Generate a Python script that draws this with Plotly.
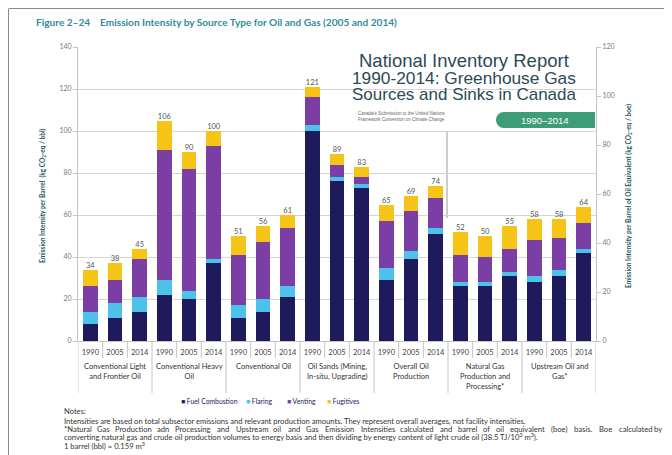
import plotly.graph_objects as go

# ---------------- data ----------------
groups = ["Conventional Light<br>and Frontier Oil", "Conventional Heavy<br>Oil", "Conventional Oil",
          "Oil Sands (Mining,<br>In-situ, Upgrading)", "Overall Oil<br>Production",
          "Natural Gas<br>Production and<br>Processing*", "Upstream Oil and<br>Gas*"]
years = ["1990", "2005", "2014"]
fuel_combustion = [8, 11, 14, 22, 20, 37, 11, 14, 21, 100, 76, 73, 29, 39, 51, 26, 26, 31, 28, 31, 42]
flaring         = [6, 7, 7, 7, 4, 2, 6, 6, 5, 3, 2, 2, 6, 4, 3, 2, 2, 2, 3, 3, 2]
venting         = [12, 11, 18, 62, 58, 54, 24, 27, 28, 13, 6, 3, 22, 19, 14, 13, 12, 11, 17, 15, 12]
fugitives       = [8, 8, 5, 14, 8, 7, 9, 8, 6, 5, 5, 5, 8, 7, 6, 11, 10, 11, 10, 9, 8]
totals          = [34, 38, 45, 106, 90, 100, 51, 56, 61, 121, 89, 83, 65, 69, 74, 52, 50, 55, 58, 58, 64]
left_ticks = [0, 20, 40, 60, 80, 100, 120, 140]
right_ticks = [0, 20, 40, 60, 80, 100, 120]

series = [("Fuel Combustion", fuel_combustion, "#1e1a5c"),
          ("Flaring", flaring, "#4cc2ea"),
          ("Venting", venting, "#7a3ea5"),
          ("Fugitives", fugitives, "#f6c417")]

note_1 = ("Intensities are based on total subsector emissions and relevant production amounts. "
          "They represent overall averages, not facility intensities.")
note_2 = ("*Natural Gas Production adn Processing and Upstream oil and Gas Emission Intensities calculated "
          "and barrel of oil equivalent (boe) basis. Boe calculated by")
note_3 = ("converting natural gas and crude oil production volumes to energy basis and then dividing by "
          "energy content of light crude oil (38.5 TJ/10<sup>3</sup> m<sup>3</sup>).")
note_4 = "1 barrel (bbl) = 0.159 m<sup>3</sup>"

n = len(groups) * len(years)
xpos = list(range(n))
xlabels = [y for g in groups for y in years]

# The page body has an 8px margin, so the figure is 664x447 and sits at (8,8) in the window.
# Helpers below take window (reference) pixel coordinates.
OFF = 8
W, H = 672 - OFF, 455 - OFF
L, R, T, B = 78, 596, 47, 341          # plot area in window pixels
def px(xp):
    return (xp - L) / (R - L)
def py(yp):
    return (B - yp) / (B - T)

FONT = "Lato"
fig = go.Figure()
for name, vals, col in series:
    fig.add_trace(go.Bar(x=xpos, y=vals, name=name, marker_color=col,
                         marker_line_width=0, width=0.6, showlegend=False))

stack_tops = [a + b + c + d for a, b, c, d in zip(fuel_combustion, flaring, venting, fugitives)]
fig.add_trace(go.Scatter(x=xpos, y=stack_tops, mode="text", text=[str(t) for t in totals],
                         textposition="top center", showlegend=False,
                         textfont=dict(size=7.5, color="#555", family=FONT), hoverinfo="skip"))
# reference the secondary (boe) axis so that it is drawn
fig.add_trace(go.Scatter(x=[None] * len(right_ticks), y=right_ticks, yaxis="y2", mode="markers",
                         showlegend=False, hoverinfo="skip"))

shapes = []
# white inset (report cover) covering gridlines
shapes.append(dict(type="rect", xref="paper", yref="paper", x0=px(334), x1=px(594), y0=py(128), y1=py(50),
                   fillcolor="white", line_width=0, layer="between"))
shapes.append(dict(type="line", xref="paper", yref="paper", x0=px(447), x1=px(447), y0=py(132), y1=py(218),
                   line=dict(color="#9a9a9a", width=1), layer="between"))
# green pill
shapes.append(dict(type="rect", xref="paper", yref="paper", x0=px(503), x1=px(595), y0=py(128), y1=py(112),
                   fillcolor="#3c9d78", line_width=0, layer="above"))
shapes.append(dict(type="circle", xref="paper", yref="paper", x0=px(496), x1=px(512), y0=py(128), y1=py(112),
                   fillcolor="#3c9d78", line_width=0, layer="above"))
# category separators
for i in range(n + 1):
    xb = i - 0.5
    is_group = (i % 3 == 0)
    shapes.append(dict(type="line", xref="x", yref="paper", x0=xb, x1=xb, y0=py(341),
                       y1=py(393 if is_group else 358), line=dict(color="#c4c4c4", width=1)))
# outer frame
shapes.append(dict(type="line", xref="paper", yref="paper", x0=px(9), x1=px(672), y0=py(8.5), y1=py(8.5),
                   line=dict(color="#8a8a8a", width=1)))
shapes.append(dict(type="line", xref="paper", yref="paper", x0=px(8.5), x1=px(8.5), y0=py(8.5), y1=py(455),
                   line=dict(color="#8a8a8a", width=1)))

ann = []
ann.append(dict(text="<b>Figure 2–24    Emission Intensity by Source Type for Oil and Gas (2005 and 2014)</b>",
                xref="paper", yref="paper", x=px(34), y=py(22), xanchor="left", yanchor="middle",
                showarrow=False, font=dict(size=10.1, color="#2f8c9c", family=FONT)))
for g_i, g in enumerate(groups):
    ann.append(dict(text=g, xref="x", yref="paper", x=g_i * 3 + 1, y=py(360), xanchor="center", yanchor="top",
                    showarrow=False, font=dict(size=7.5, color="#333", family=FONT), align="center"))
ann.append(dict(text="<b>Emission Intensity per Barrel  (kg CO<sub>2</sub>-eq / bbl)</b>", textangle=-90,
                xref="paper", yref="paper", x=px(42), y=py(196), xanchor="center", yanchor="middle",
                showarrow=False, font=dict(size=6.5, color="#1f5563", family=FONT)))
ann.append(dict(text="<b>Emission Intensity per Barrel of Oil Equivalent (kg CO<sub>2</sub>-eq / boe)</b>", textangle=-90,
                xref="paper", yref="paper", x=px(628), y=py(196), xanchor="center", yanchor="middle",
                showarrow=False, font=dict(size=6.5, color="#1f5563", family=FONT)))
# inset text
for txt, yy, fs in [("National Inventory Report", 60, 18.5), ("1990-2014: Greenhouse Gas", 78, 17.3),
                    ("Sources and Sinks in Canada", 95, 17)]:
    ann.append(dict(text=txt, xref="paper", yref="paper", x=px(464), y=py(yy), xanchor="center", yanchor="middle",
                    showarrow=False, font=dict(size=fs, color="#2c4a55", family="Liberation Sans")))
ann.append(dict(text="Canada's Submission to the United Nations<br>Framework Convention on Climate Change",
                xref="paper", yref="paper", x=px(356), y=py(116), xanchor="left", yanchor="middle", align="left",
                showarrow=False, font=dict(size=4.5, color="#666", family="Liberation Sans")))
ann.append(dict(text="1990–2014", xref="paper", yref="paper", x=px(545), y=py(120), xanchor="center", yanchor="middle",
                showarrow=False, font=dict(size=9.5, color="white", family="Liberation Sans")))
# legend (manual, compact like the reference)
legend_x = [179, 244, 285, 325]
for (name, _, col), lx in zip(series, legend_x):
    ann.append(dict(text=f"<span style='color:{col}'>■</span> {name}", xref="paper", yref="paper",
                    x=px(lx), y=py(401), xanchor="left", yanchor="middle", showarrow=False,
                    font=dict(size=6.8, color="#1e1a5c", family=FONT)))

# notes
NOTE_FS = 7.6
def note(text, yy, x=62, anchor="left"):
    ann.append(dict(text=text, xref="paper", yref="paper", x=px(x), y=py(yy), xanchor=anchor, yanchor="middle",
                    showarrow=False, font=dict(size=NOTE_FS, color="#333", family=FONT)))

def est_width(s):
    w = 0.0
    for ch in s:
        if ch in "ilj.,'|!:;I":
            w += 0.24
        elif ch in "frt()-/* ":
            w += 0.32
        elif ch in "mwMW":
            w += 0.80
        elif ch.isupper():
            w += 0.64
        elif ch.isdigit():
            w += 0.55
        elif ch in "sc":
            w += 0.43
        else:
            w += 0.52
    return w

note("Notes:", 411)
note(note_1, 421)
# calibrate the width estimate on note 1 (rendered width ~465px), then justify note 2 word by word
scale = 465.0 / est_width(note_1)
words = note_2.split(" ")
x_start, x_end = 62, 664
word_w = [est_width(w) * scale for w in words]
gap = (x_end - x_start - sum(word_w)) / (len(words) - 1)
cx = x_start
for k, w in enumerate(words):
    if k == len(words) - 1:
        note(w, 429, x_end, "right")
    else:
        note(w, 429, cx, "left")
    cx += word_w[k] + gap
note(note_3, 437)
note(note_4, 446)

fig.update_layout(
    width=W, height=H, barmode="stack", bargap=0.4, showlegend=False,
    margin=dict(l=L - OFF, r=W - (R - OFF), t=T - OFF, b=H - (B - OFF), autoexpand=False),
    paper_bgcolor="white", plot_bgcolor="white",
    font=dict(family=FONT, color="#555"),
    shapes=shapes, annotations=ann,
    xaxis=dict(range=[-0.5, n - 0.5], tickvals=xpos, ticktext=xlabels, showgrid=False,
               tickfont=dict(size=7.5, color="#444", family=FONT), ticks="", ticklabelstandoff=4,
               zeroline=False, showline=True, linecolor="#c4c4c4"),
    yaxis=dict(range=[0, 140], tickvals=left_ticks, showgrid=True, gridcolor="#d4d4d4", gridwidth=1,
               tickfont=dict(size=7, color="#777", family=FONT), ticks="outside", ticklen=4, tickcolor="#c4c4c4",
               showline=True, linecolor="#c4c4c4", zeroline=False),
    yaxis2=dict(range=[0, 120], tickvals=right_ticks, overlaying="y", side="right", showgrid=False,
                tickfont=dict(size=7, color="#777", family=FONT), ticks="outside", ticklen=4, tickcolor="#c4c4c4",
                showline=True, linecolor="#c4c4c4", zeroline=False),
)
fig.write_html("out.html")
